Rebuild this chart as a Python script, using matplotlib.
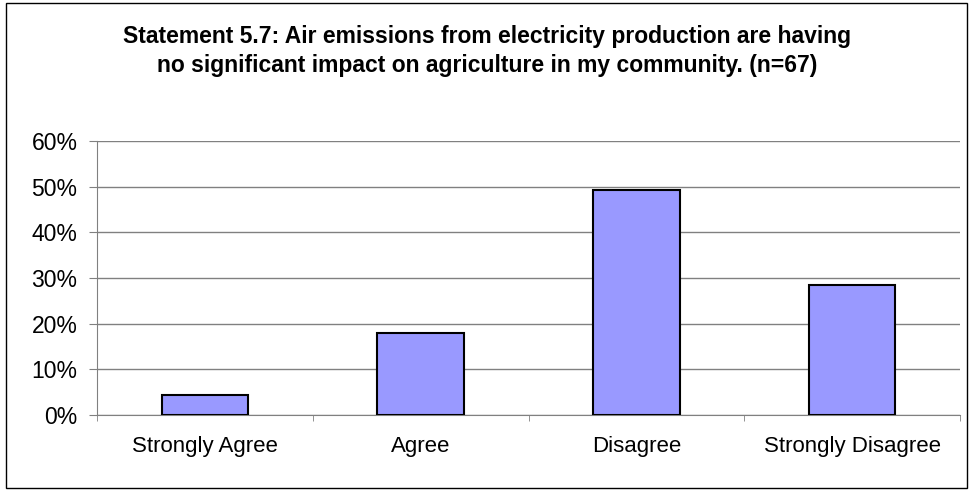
import matplotlib
matplotlib.use("Agg")
import matplotlib.pyplot as plt
from matplotlib.patches import Rectangle
from matplotlib.ticker import FixedLocator, PercentFormatter

categories = ["Strongly Agree", "Agree", "Disagree", "Strongly Disagree"]
shares = [4.48, 17.91, 49.25, 28.36]   # percent of n=67 respondents
y_ticks = [0, 10, 20, 30, 40, 50, 60]
title = ("Statement 5.7: Air emissions from electricity production are having\n"
         "no significant impact on agriculture in my community. (n=67)")

plt.rcParams["font.family"] = ["Liberation Sans", "DejaVu Sans"]

fig = plt.figure(figsize=(9.74, 4.91), dpi=100)
ax = fig.add_axes([97 / 974, 1 - 415 / 491, (960 - 97) / 974, (415 - 141) / 491])

ax.bar(range(len(categories)), shares, width=0.4, color="#9999ff",
       edgecolor="black", linewidth=1.5, zorder=3)

ax.set_xlim(-0.5, len(categories) - 0.5)
ax.set_ylim(0, 60)
ax.yaxis.set_major_locator(FixedLocator(y_ticks))
ax.yaxis.set_major_formatter(PercentFormatter(decimals=0))
ax.grid(axis="y", color="#808080", linewidth=1, zorder=0)

ax.set_xticks(range(len(categories)))
ax.set_xticklabels(categories)
ax.xaxis.set_minor_locator(FixedLocator([i - 0.5 for i in range(len(categories) + 1)]))
ax.tick_params(axis="x", which="major", length=0, pad=15, labelsize=16)
ax.tick_params(axis="x", which="minor", length=4, color="#808080", direction="out")
ax.tick_params(axis="y", length=6, color="#808080", labelsize=16.5, pad=8)

for side in ("top", "right"):
    ax.spines[side].set_visible(False)
for side in ("left", "bottom"):
    ax.spines[side].set_color("#808080")

fig.text(0.5, 1 - 51 / 491, title, ha="center", va="center",
         fontsize=16.5, fontweight="bold", linespacing=1.35)

fig.patches.append(Rectangle((6 / 974, 3 / 491), 961 / 974, 485 / 491,
                             transform=fig.transFigure, fill=False,
                             edgecolor="black", linewidth=1))

fig.savefig("out.png", dpi=100)
